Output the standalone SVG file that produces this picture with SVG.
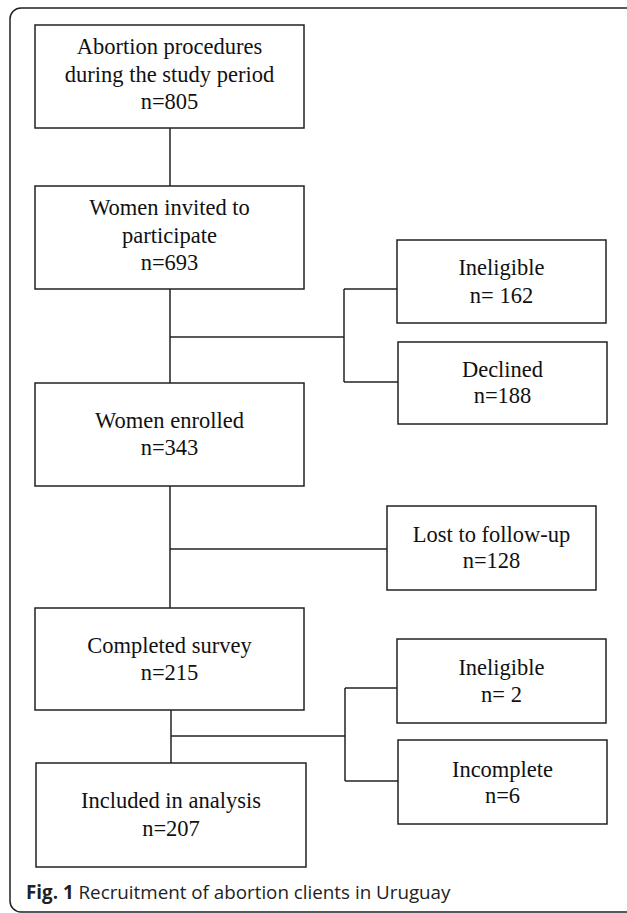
<svg xmlns="http://www.w3.org/2000/svg" width="627" height="913" viewBox="0 0 627 913">
<style>
.box{fill:#fff;stroke:#222;stroke-width:1.5}
.t{font-family:"Liberation Serif","Times New Roman",serif;font-size:22.5px;fill:#111;text-anchor:middle}
.c line{stroke:#222;stroke-width:1.5;fill:none}
.cap{font-family:"Open Sans","Noto Sans",sans-serif;font-size:18.8px;fill:#222}
</style>
<rect x="0" y="0" width="627" height="913" fill="#fff"/>
<rect x="10" y="8" width="640" height="904" rx="11" ry="11" fill="none" stroke="#222" stroke-width="1.5"/>
<g class="c" id="connectors">
<line x1="170" y1="128" x2="170" y2="186"/>
<line x1="170" y1="289" x2="170" y2="383"/>
<line x1="170" y1="337" x2="344" y2="337"/>
<line x1="344" y1="289" x2="344" y2="382"/>
<line x1="344" y1="289" x2="397" y2="289"/>
<line x1="344" y1="382" x2="398" y2="382"/>
<line x1="170" y1="486" x2="170" y2="608"/>
<line x1="170" y1="549" x2="387" y2="549"/>
<line x1="171" y1="710" x2="171" y2="763"/>
<line x1="171" y1="736" x2="345" y2="736"/>
<line x1="345" y1="688" x2="345" y2="781"/>
<line x1="345" y1="688" x2="397" y2="688"/>
<line x1="345" y1="781" x2="398" y2="781"/>
</g>
<g id="n1"><rect class="box" x="35" y="25" width="269" height="103"/>
<text class="t" x="169.5" y="54">Abortion procedures</text>
<text class="t" x="169.5" y="81.5">during the study period</text>
<text class="t" x="169.5" y="108.5">n=805</text></g>
<g id="n2"><rect class="box" x="35" y="186" width="269" height="103"/>
<text class="t" x="169.5" y="215">Women invited to</text>
<text class="t" x="169.5" y="243">participate</text>
<text class="t" x="169.5" y="270">n=693</text></g>
<g id="n3"><rect class="box" x="397" y="240" width="209" height="83"/>
<text class="t" x="501.5" y="275">Ineligible</text>
<text class="t" x="501.5" y="303">n= 162</text></g>
<g id="n4"><rect class="box" x="398" y="342" width="209" height="82"/>
<text class="t" x="502.5" y="377">Declined</text>
<text class="t" x="502.5" y="403">n=188</text></g>
<g id="n5"><rect class="box" x="35" y="383" width="269" height="103"/>
<text class="t" x="169.5" y="428">Women enrolled</text>
<text class="t" x="169.5" y="455">n=343</text></g>
<g id="n6"><rect class="box" x="387" y="506" width="209" height="84"/>
<text class="t" x="491.5" y="542">Lost to follow-up</text>
<text class="t" x="491.5" y="568">n=128</text></g>
<g id="n7"><rect class="box" x="35" y="608" width="269" height="102"/>
<text class="t" x="169.5" y="653">Completed survey</text>
<text class="t" x="169.5" y="680">n=215</text></g>
<g id="n8"><rect class="box" x="397" y="639" width="209" height="84"/>
<text class="t" x="501.5" y="675">Ineligible</text>
<text class="t" x="501.5" y="702">n= 2</text></g>
<g id="n9"><rect class="box" x="398" y="740" width="209" height="84"/>
<text class="t" x="502.5" y="777">Incomplete</text>
<text class="t" x="502.5" y="803">n=6</text></g>
<g id="n10"><rect class="box" x="36" y="763" width="270" height="104"/>
<text class="t" x="171" y="808">Included in analysis</text>
<text class="t" x="171" y="836">n=207</text></g>
<text class="cap" x="26" y="899"><tspan font-weight="bold">Fig. 1</tspan> Recruitment of abortion clients in Uruguay</text>
</svg>
